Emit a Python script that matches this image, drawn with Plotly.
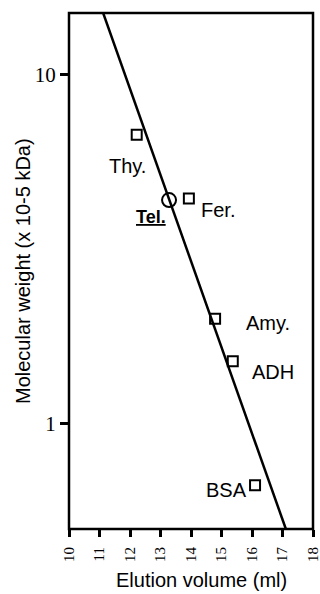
import plotly.graph_objects as go
import math

# Standards (open squares)
std_names = ["Thy.", "Fer.", "Amy.", "ADH", "BSA"]
std_volume = [12.22, 13.93, 14.79, 15.37, 16.10]
std_mw = [6.72, 4.42, 2.0, 1.51, 0.667]

# Sample (open circle)
sample_name = "Tel."
sample_volume = [13.28]
sample_mw = [4.37]

# Calibration line endpoints
fit_volume = [11.12, 17.11]
fit_mw = [15.0, 0.5]

# label positions (data coords; y in molecular weight units)
label_x = [11.92, 14.88, 16.52, 16.69, 15.18]
label_y = [5.48, 4.10, 1.95, 1.41, 0.647]
tel_label_x, tel_label_y = 12.69, 3.92

x_ticks = list(range(10, 19))
y_ticks = [1, 10]

fig = go.Figure()
fig.add_trace(go.Scatter(x=fit_volume, y=fit_mw, mode="lines",
                         line=dict(color="black", width=2.5), showlegend=False))
fig.add_trace(go.Scatter(x=std_volume, y=std_mw, mode="markers",
                         marker=dict(symbol="square-open", size=10, color="black",
                                     line=dict(width=2)), showlegend=False))
fig.add_trace(go.Scatter(x=sample_volume, y=sample_mw, mode="markers",
                         marker=dict(symbol="circle-open", size=14, color="black",
                                     line=dict(width=2)), showlegend=False))

sans = "Liberation Sans, Arial, sans-serif"
serif = "Liberation Serif, Times New Roman, serif"

for n, lx, ly in zip(std_names, label_x, label_y):
    fig.add_annotation(x=lx, y=math.log10(ly), xref="x", yref="y", text=n,
                       showarrow=False, font=dict(family=sans, size=20, color="black"))
fig.add_annotation(x=tel_label_x, y=math.log10(tel_label_y), xref="x", yref="y",
                   text="<b><u>" + sample_name + "</u></b>", showarrow=False,
                   font=dict(family=sans, size=18, color="black"))

fig.add_annotation(x=0.545, y=-0.099, xref="paper", yref="paper",
                   xanchor="center", yanchor="middle",
                   text="Elution volume (ml)", showarrow=False,
                   font=dict(family=sans, size=20, color="black"))
fig.add_annotation(x=-0.1885, y=0.5, xref="paper", yref="paper",
                   xanchor="center", yanchor="middle",
                   text="Molecular weight (x 10-5 kDa)", showarrow=False, textangle=-90,
                   font=dict(family=sans, size=20, color="black"))

# plot frame
fig.add_shape(type="rect", xref="paper", yref="paper", x0=0, x1=1, y0=0, y1=1,
              line=dict(color="black", width=2.5), layer="above")

fig.update_xaxes(range=[10, 18], tickvals=x_ticks, ticktext=[str(v) for v in x_ticks],
                 tickangle=-90, ticks="outside", ticklen=7, tickwidth=2.5, tickcolor="black",
                 showline=False, showgrid=False, zeroline=False, automargin=False,
                 ticklabeloverflow="allow", ticklabelstandoff=4,
                 tickfont=dict(family=serif, size=15, color="black"))
fig.update_yaxes(type="log", range=[math.log10(0.5), math.log10(15)],
                 tickvals=y_ticks, ticktext=[str(v) for v in y_ticks],
                 ticks="outside", ticklen=8, tickwidth=2.5, tickcolor="black",
                 showline=False, showgrid=False, zeroline=False, automargin=False,
                 ticklabeloverflow="allow",
                 tickfont=dict(family=serif, size=21, color="black"))

fig.update_layout(width=320, height=594, margin=dict(l=69, r=7, t=13, b=65),
                  plot_bgcolor="white", paper_bgcolor="white", hovermode=False)

fig.write_html("out.html", config={"displayModeBar": False},
               post_script=("document.documentElement.style.overflow='hidden';"
                            "document.body.style.overflow='hidden';"
                            "document.body.style.margin='0';"))
